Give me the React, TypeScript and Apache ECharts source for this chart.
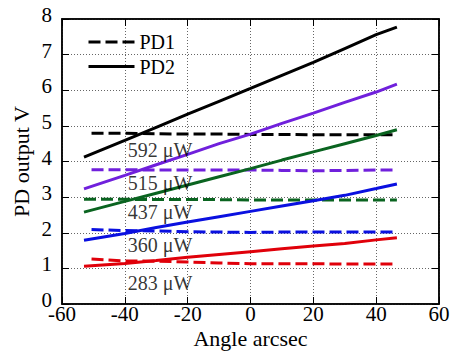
import React, { useEffect, useRef } from "react";
import * as echarts from "echarts";

const solidAngles = [-53, -40, -30, -20, -10, 0, 10, 20, 30, 40, 46.6];
const pd2Black = [4.12, 4.59, 4.96, 5.33, 5.69, 6.05, 6.42, 6.78, 7.17, 7.56, 7.77];
const pd2Purple = [3.23, 3.61, 3.91, 4.2, 4.5, 4.77, 5.07, 5.36, 5.66, 5.95, 6.17];
const pd2Green = [2.58, 2.88, 3.11, 3.34, 3.57, 3.8, 4.04, 4.27, 4.5, 4.73, 4.89];
const pd2Blue = [1.79, 1.98, 2.15, 2.3, 2.45, 2.6, 2.75, 2.9, 3.05, 3.24, 3.37];
const pd2Red = [1.06, 1.14, 1.22, 1.31, 1.39, 1.47, 1.55, 1.63, 1.7, 1.8, 1.86];

const dashedAngles = [-50.6, -40, -30, -20, -10, 0, 10, 20, 30, 40, 46.6];
const greenDashedAngles = [-53, -40, -30, -20, -10, 0, 10, 20, 30, 40, 46.6];
const pd1Black = [4.79, 4.79, 4.78, 4.77, 4.77, 4.76, 4.76, 4.75, 4.75, 4.75, 4.75];
const pd1Purple = [3.77, 3.77, 3.76, 3.76, 3.76, 3.76, 3.75, 3.74, 3.75, 3.76, 3.76];
const pd1Green = [2.94, 2.94, 2.93, 2.93, 2.93, 2.92, 2.92, 2.92, 2.92, 2.92, 2.92];
const pd1Blue = [2.09, 2.06, 2.05, 2.03, 2.02, 2.01, 2.02, 2.02, 2.02, 2.02, 2.02];
const pd1Red = [1.26, 1.21, 1.2, 1.18, 1.15, 1.13, 1.13, 1.13, 1.12, 1.12, 1.12];

const powerLabels = ["592 μW", "515 μW", "437 μW", "360 μW", "283 μW"];
const labelAngle = -39.1;
const labelValues = [4.33, 3.4, 2.58, 1.66, 0.59];

const colors = {
  black: "#000000",
  purple: "#7020dc",
  green: "#0a6420",
  blue: "#0a10e0",
  red: "#e0000a",
};

const FONT = "Liberation Serif";

function zip(xs: number[], ys: number[]) {
  return xs.map((x, i) => [x, ys[i]]);
}

export default function App() {
  const ref = useRef<HTMLDivElement>(null);
  useEffect(() => {
    if (!ref.current) return;
    const chart = echarts.init(ref.current, null, { renderer: "svg" });
    const solid = (name: string, color: string, ys: number[]) => ({
      name,
      type: "line",
      data: zip(solidAngles, ys),
      showSymbol: false,
      symbol: "none",
      lineStyle: { color, width: 3 },
      itemStyle: { color, opacity: 0 },
      z: 3,
    });
    const dashed = (name: string, color: string, xs: number[], ys: number[]) => ({
      name,
      type: "line",
      data: zip(xs, ys),
      showSymbol: false,
      symbol: "none",
      lineStyle: { color, width: 3, type: [12, 5] },
      itemStyle: { color, opacity: 0 },
      z: 3,
    });
    const labelSeries = {
      name: "labels",
      type: "scatter",
      symbolSize: 0,
      data: labelValues.map((v, i) => ({
        value: [labelAngle, v],
        label: {
          show: true,
          formatter: powerLabels[i],
          position: "right",
          distance: 0,
          fontFamily: FONT,
          fontSize: 20,
          color: "#000",
        },
      })),
      z: 4,
    };
    const axisLineStyle = { show: true, onZero: false, lineStyle: { color: "#000", width: 1.5 } };
    const tick = { show: true, inside: true, length: 7, lineStyle: { color: "#000" } };
    const grid = { show: true, lineStyle: { color: "#666", type: [1, 2], width: 1 } };
    const option = {
      animation: false,
      grid: {
        left: 62,
        right: 13,
        top: 19,
        bottom: 49,
        show: true,
        borderColor: "#000",
        borderWidth: 1.5,
        containLabel: false,
        outerBoundsMode: "none",
      },
      legend: {
        data: ["PD1", "PD2"],
        orient: "vertical",
        left: 87,
        top: 32,
        padding: 0,
        itemWidth: 46,
        itemHeight: 14,
        itemGap: 4.5,
        itemStyle: { opacity: 0 },
        lineStyle: { width: 3 },
        textStyle: { fontFamily: FONT, fontSize: 20, color: "#000" },
      },
      xAxis: [
        {
          type: "value",
          min: -60,
          max: 60,
          interval: 20,
          name: "Angle arcsec",
          nameLocation: "middle",
          nameGap: 22,
          nameMoveOverlap: false,
          nameTextStyle: { fontFamily: FONT, fontSize: 22, color: "#000", lineHeight: 24 },
          axisLine: axisLineStyle,
          axisTick: tick,
          axisLabel: { fontFamily: FONT, fontSize: 21, color: "#000", margin: 3, lineHeight: 14 },
          splitLine: grid,
        },
        {
          type: "value",
          position: "top",
          min: -60,
          max: 60,
          interval: 20,
          axisLine: axisLineStyle,
          axisTick: tick,
          axisLabel: { show: false },
          splitLine: { show: false },
        },
      ],
      yAxis: [
        {
          type: "value",
          min: 0,
          max: 8,
          interval: 1,
          name: "PD output V",
          nameLocation: "middle",
          nameGap: 30,
          nameMoveOverlap: false,
          nameTextStyle: { fontFamily: FONT, fontSize: 22, color: "#000" },
          axisLine: axisLineStyle,
          axisTick: tick,
          axisLabel: { fontFamily: FONT, fontSize: 21, color: "#000", margin: 10, lineHeight: 8, verticalAlign: "bottom" },
          splitLine: grid,
        },
        {
          type: "value",
          position: "right",
          min: 0,
          max: 8,
          interval: 1,
          axisLine: axisLineStyle,
          axisTick: tick,
          axisLabel: { show: false },
          splitLine: { show: false },
        },
      ],
      series: [
        dashed("PD1", colors.black, dashedAngles, pd1Black),
        solid("PD2", colors.black, pd2Black),
        dashed("PD1 515", colors.purple, dashedAngles, pd1Purple),
        solid("PD2 515", colors.purple, pd2Purple),
        dashed("PD1 437", colors.green, greenDashedAngles, pd1Green),
        solid("PD2 437", colors.green, pd2Green),
        dashed("PD1 360", colors.blue, dashedAngles, pd1Blue),
        solid("PD2 360", colors.blue, pd2Blue),
        dashed("PD1 283", colors.red, dashedAngles, pd1Red),
        solid("PD2 283", colors.red, pd2Red),
        labelSeries,
      ],
    };
    chart.setOption(option as any);
    return () => chart.dispose();
  }, []);
  return (
    <div
      ref={ref}
      style={{ position: "absolute", left: 0, top: 0, width: 452, height: 353 }}
    />
  );
}
